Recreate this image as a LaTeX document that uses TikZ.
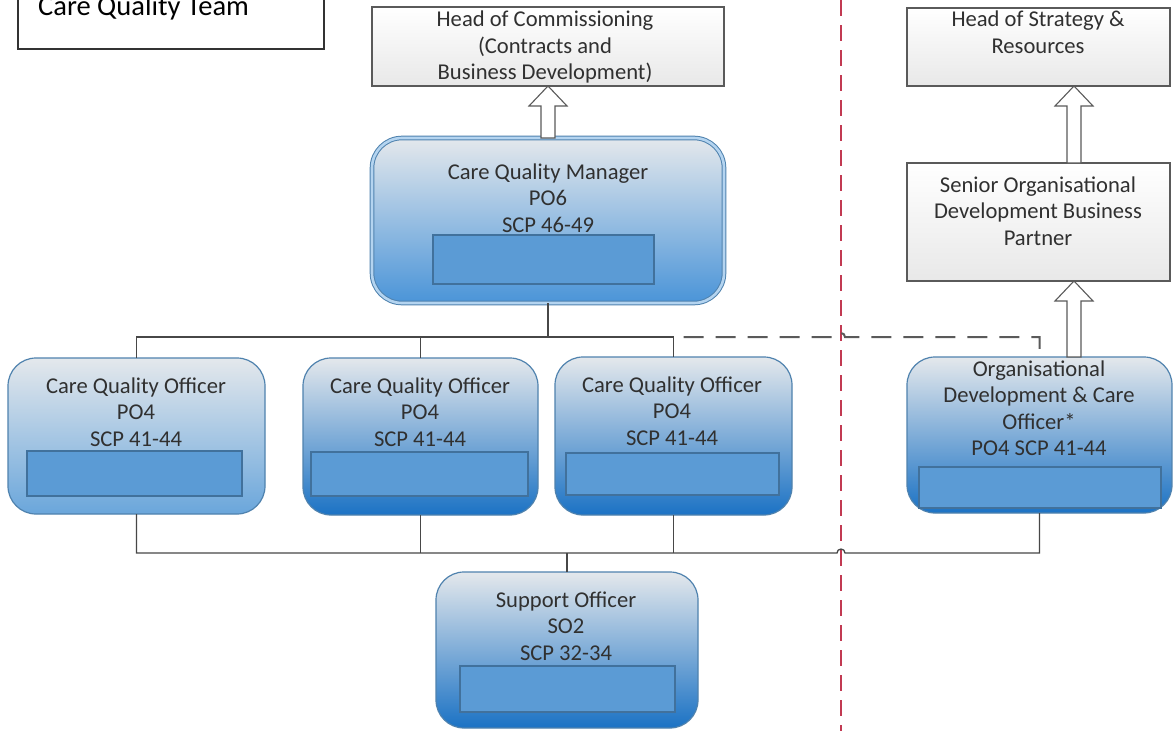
\documentclass[tikz,border=0pt]{standalone}
\usepackage{fontspec}
\setmainfont{Carlito}
\usetikzlibrary{calc}
\definecolor{boxedge}{HTML}{4F82AE}
\definecolor{innerfill}{HTML}{5B9BD5}
\definecolor{inneredge}{HTML}{41719C}
\definecolor{txt}{HTML}{303030}
\definecolor{conncol}{HTML}{474747}
\definecolor{dashcol}{HTML}{5A5A5A}
\definecolor{redline}{HTML}{C23A52}
\definecolor{grayedge}{HTML}{5A5A5A}
\definecolor{blueA}{HTML}{E4E8EC}
\definecolor{blueB}{HTML}{8DBBE4}
\definecolor{blueC}{HTML}{1B72C4}
\definecolor{blueL}{HTML}{A9CBEA}
\definecolor{blueLL}{HTML}{6AA6DB}
\definecolor{blueM}{HTML}{A2C6E8}
\definecolor{blueMM}{HTML}{4A94D8}
\definecolor{dbl}{HTML}{B4D4F0}
\tikzset{
  boxtext/.style={align=center, inner sep=0pt, text=txt, font=\fontsize{22.6}{26.5}\selectfont},
  bluebox/.style={draw=boxedge, line width=1.2pt, rounded corners=28pt, inner sep=0pt, outer sep=0pt,
     top color=blueA, middle color=blueB, bottom color=blueC},
  lightbox/.style={bluebox, top color=blueA, middle color=blueL, bottom color=blueLL},
  mgrbox/.style={draw=boxedge, line width=1pt, double=dbl, double distance=2.6pt,
     rounded corners=30pt, inner sep=0pt, outer sep=0pt, top color=blueA, middle color=blueM, bottom color=blueMM},
  innerbox/.style={draw=inneredge, line width=1.5pt, fill=innerfill, inner sep=0pt, outer sep=0pt},
  graybox/.style={draw=grayedge, line width=1.3pt, top color=white, bottom color=black!9, inner sep=0pt, outer sep=0pt},
  titlebox/.style={draw=black!80, line width=1.2pt, fill=white, inner sep=0pt, outer sep=0pt},
  conn/.style={draw=conncol, line width=1.3pt},
  dconn/.style={draw=dashcol, line width=2pt, dash pattern=on 20pt off 12pt, dash phase=22pt},
  redconn/.style={draw=redline, line width=1.6pt, dash pattern=on 16pt off 9pt},
  barrowstyle/.style={draw=grayedge, line width=1.1pt, fill=white, line join=miter}
}
\newcommand{\blockarr}[2]{\draw[barrowstyle] let \p1=(#1), \p2=(#2) in
  (\x1-7pt,\y1) -- (\x1-7pt,\y2-20pt) -- (\x1-19pt,\y2-20pt) -- (\x1,\y2)
  -- (\x1+19pt,\y2-20pt) -- (\x1+7pt,\y2-20pt) -- (\x1+7pt,\y1) -- cycle;}
\begin{document}
\begin{tikzpicture}[x=1pt,y=-1pt]
\useasboundingbox (0,0) rectangle (1173,731);
\clip (0,0) rectangle (1173,731);
\fill[white] (0,0) rectangle (1173,731);

% helper coordinates
\coordinate (busT) at (0,337);
\coordinate (busB) at (0,553);
\coordinate (arx) at (1074,0);
\coordinate (redtop) at (841,0);
\coordinate (redbot) at (841,731);

% red dashed divider
\draw[redconn] (redtop) -- (redbot);

% title
\node[titlebox, minimum width=306pt, minimum height=54pt] (title) at (171,22) {};
\node[anchor=base west, inner sep=0pt, font=\fontsize{28.5}{32}\selectfont] (titleT) at (38,15) {Care Quality Team};

% grey boxes
\node[graybox, minimum width=352pt, minimum height=79pt] (hoc) at (548,46.5) {};
\node[boxtext] (hocT) at (545,47) {Head of Commissioning\\(Contracts and\\Business Development)};
\node[graybox, minimum width=263pt, minimum height=78pt] (hos) at (1038.5,47) {};
\node[boxtext] (hosT) at (1038,32) {Head of Strategy \&\\Resources};
\node[graybox, minimum width=263pt, minimum height=118pt] (sod) at (1038.5,222) {};
\node[boxtext] (sodT) at (1038,211) {Senior Organisational\\Development Business\\Partner};

% manager
\node[mgrbox, minimum width=352pt, minimum height=165pt] (cqm) at (548,220.5) {};
\node[boxtext] (cqmT) at (548,198) {Care Quality Manager\\PO6\\SCP 46-49};
\node[innerbox, minimum width=221pt, minimum height=49pt] (cqmR) at (543.5,259.5) {};

% officers
\node[lightbox, minimum width=257pt, minimum height=156pt] (cqo1) at (136.5,436) {};
\node[boxtext] (cqo1T) at (136,412) {Care Quality Officer\\PO4\\SCP 41-44};
\node[innerbox, minimum width=215pt, minimum height=45pt] (cqo1R) at (134.5,473.5) {};

\node[bluebox, minimum width=235pt, minimum height=157pt] (cqo2) at (420.5,436.5) {};
\node[boxtext] (cqo2T) at (420,412) {Care Quality Officer\\PO4\\SCP 41-44};
\node[innerbox, minimum width=217pt, minimum height=44pt] (cqo2R) at (419.5,474) {};

\node[bluebox, minimum width=237pt, minimum height=158pt] (cqo3) at (673.5,436) {};
\node[boxtext] (cqo3T) at (672,411) {Care Quality Officer\\PO4\\SCP 41-44};
\node[innerbox, minimum width=213pt, minimum height=42pt] (cqo3R) at (672.5,474) {};

\node[bluebox, minimum width=265pt, minimum height=156pt] (odc) at (1039.5,435) {};
\node[boxtext] (odcT) at (1039,408) {Organisational\\Development \& Care\\Officer*\\PO4 SCP 41-44};
\node[innerbox, minimum width=242pt, minimum height=41pt] (odcR) at (1040,487.5) {};

\node[bluebox, minimum width=262pt, minimum height=156pt] (sup) at (567,650) {};
\node[boxtext] (supT) at (566,626) {Support Officer\\SO2\\SCP 32-34};
\node[innerbox, minimum width=215pt, minimum height=46pt] (supR) at (567.5,689) {};

% connectors
\draw[conn] (cqm.south) -- (cqm.south |- busT);
\draw[conn] (cqo1.north) |- (cqo3.north |- busT) -- (cqo3.north);
\draw[conn] (cqo2.north) -- (cqo2.north |- busT);
\draw[dconn] (cqo3.north |- busT) -- ($(redtop |- busT)+(-4,0)$) arc[start angle=180,end angle=360,radius=4] -- (odc.north |- busT) -- (odc.north);
\draw[conn] (cqo1.south) |- ($(redtop |- busB)+(-4,0)$) arc[start angle=180,end angle=360,radius=4] -- (odc.south |- busB) -- (odc.south);
\draw[conn] (cqo2.south) -- (cqo2.south |- busB);
\draw[conn] (cqo3.south) -- (cqo3.south |- busB);
\draw[conn] (sup.north) -- (sup.north |- busB);

% block arrows
\blockarr{cqm.north}{cqm.north |- hoc.south}
\blockarr{sod.north -| arx}{hos.south -| arx}
\blockarr{odc.north -| arx}{sod.south -| arx}
\end{tikzpicture}
\end{document}
